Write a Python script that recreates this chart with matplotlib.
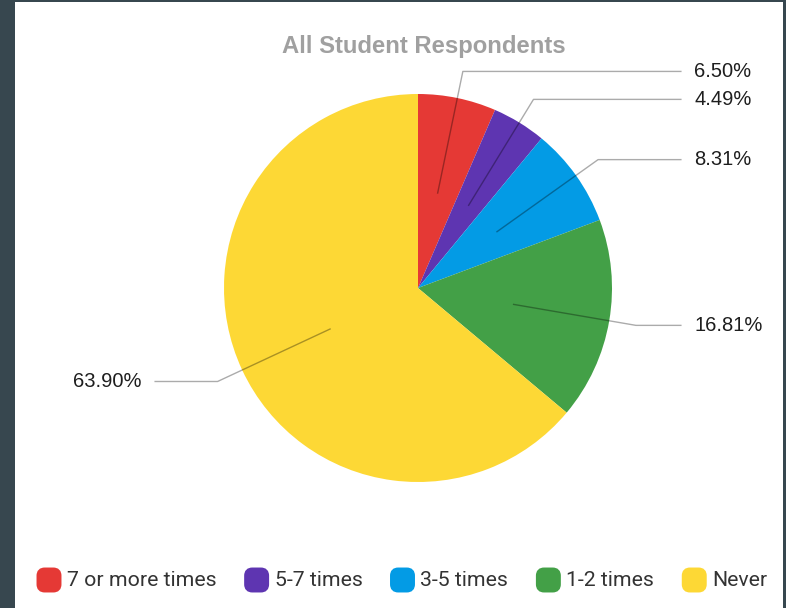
import numpy as np
import matplotlib
matplotlib.use("Agg")
from matplotlib import pyplot as plt
from matplotlib.patches import Rectangle, FancyBboxPatch

categories = ["7 or more times", "5-7 times", "3-5 times", "1-2 times", "Never"]
shares = [6.50, 4.49, 8.31, 16.81, 63.90]
colors = ["#e53935", "#5e35b1", "#039be5", "#43a047", "#fdd835"]
title = "All Student Respondents"

W, H = 786, 608
fig = plt.figure(figsize=(W / 100, H / 100), dpi=100, facecolor="#37474f")


def fx(px):
    return px / W


def fy(py):
    return 1 - py / H


# white card behind everything
fig.patches.append(Rectangle((fx(15), 0), fx(783) - fx(15), fy(2), transform=fig.transFigure,
                             facecolor="white", edgecolor="none", zorder=-5))

# pie axes: centre (418, 288), radius 194 px
cx, cy, r = 418, 288, 194
ax = fig.add_axes([fx(cx - r), fy(cy + r), 2 * r / W, 2 * r / H])
ax.set_zorder(2)
ax.axis("off")

wedges, _ = ax.pie(shares, colors=colors, startangle=90, counterclock=False, radius=1,
                   wedgeprops=dict(linewidth=0))
ax.set_xlim(-1, 1)
ax.set_ylim(-1, 1)

line_kw = dict(color="black", alpha=0.33, lw=1, clip_on=False)
for w, s in zip(wedges, shares):
    ang = np.deg2rad((w.theta1 + w.theta2) / 2)
    x0, y0 = 0.5 * np.cos(ang), 0.5 * np.sin(ang)
    x1, y1 = 1.14 * np.cos(ang), 1.14 * np.sin(ang)
    side = 1 if x1 > 0 else -1
    x2 = side * 1.355
    ax.plot([x0, x1, x2], [y0, y1, y1], **line_kw)
    ax.text(side * 1.425, y1, f"{s:.2f}%", ha="left" if side > 0 else "right", va="center",
            fontsize=14.5, family=["Liberation Sans", "DejaVu Sans"], color="#1e1e1e",
            clip_on=False)

fig.text(fx(424), fy(46), title, ha="center", va="center", fontsize=17.2, fontweight="bold",
         family=["Liberation Sans", "DejaVu Sans"], color="#a0a0a0")

# legend, laid out left to right
fig.canvas.draw()
rend = fig.canvas.get_renderer()
x = 37
ly = 580
for lab, col in zip(categories, colors):
    fig.patches.append(FancyBboxPatch((fx(x + 3), fy(ly + 9)), fx(18), 18 / H,
                                      boxstyle="round,pad=0,rounding_size=0.006",
                                      transform=fig.transFigure, facecolor=col, edgecolor=col,
                                      lw=5, mutation_aspect=W / H))
    t = fig.text(fx(x + 30), fy(ly), lab, ha="left", va="center", fontsize=15.3,
                 family="Roboto", color="#333333")
    bb = t.get_window_extent(renderer=rend)
    x = x + 30 + bb.width + 28

fig.savefig("out.png", dpi=100, facecolor=fig.get_facecolor())
